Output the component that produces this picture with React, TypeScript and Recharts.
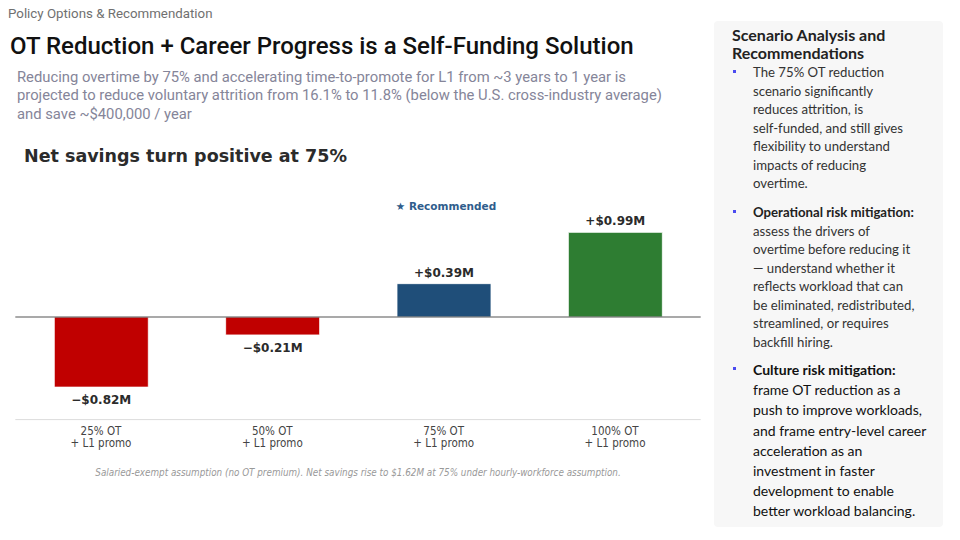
import { BarChart, Bar, XAxis, YAxis, Cell, ReferenceLine, LabelList } from "recharts";

const SCENARIOS = ["25% OT", "50% OT", "75% OT", "100% OT"];
const SCENARIO_SUFFIX = "+ L1 promo";
const NET_SAVINGS = [-0.82, -0.21, 0.39, 0.99];
const RECOMMENDED = "75% OT";
const BAR_COLORS = ["#c00000", "#c00000", "#1f4e79", "#2e7d32"];

const SUBTITLE = [
  "Reducing overtime by 75% and accelerating time-to-promote for L1 from ~3 years to 1 year is",
  "projected to reduce voluntary attrition from 16.1% to 11.8% (below the U.S. cross-industry average)",
  "and save ~$400,000 / year",
];

const BULLET_1 = [
  "The 75% OT reduction",
  "scenario significantly",
  "reduces attrition, is",
  "self-funded, and still gives",
  "flexibility to understand",
  "impacts of reducing",
  "overtime.",
];
const BULLET_2 = [
  "assess the drivers of",
  "overtime before reducing it",
  "\u2014 understand whether it",
  "reflects workload that can",
  "be eliminated, redistributed,",
  "streamlined, or requires",
  "backfill hiring.",
];
const BULLET_3 = [
  "frame OT reduction as a",
  "push to improve workloads,",
  "and frame entry-level career",
  "acceleration as an",
  "investment in faster",
  "development to enable",
  "better workload balancing.",
];

const data = SCENARIOS.map((s, i) => ({ scenario: s, savings: NET_SAVINGS[i] }));

const chartFont = "'DejaVu Sans', sans-serif";
const narrowFont = "'Liberation Sans Narrow', 'DejaVu Sans Condensed', 'Roboto', sans-serif";

function ValueLabel(props: any) {
  const { x, y, width, height, value, index } = props;
  const top = Math.min(y, y + height);
  const bottom = Math.max(y, y + height);
  const cx = x + width / 2;
  const pos = value >= 0;
  const text = pos ? `+$${value.toFixed(2)}M` : `\u2212$${Math.abs(value).toFixed(2)}M`;
  return (
    <g>
      <text
        x={cx}
        y={pos ? top - 11 : bottom + 13}
        textAnchor="middle"
        dominantBaseline="central"
        fontFamily={chartFont}
        fontWeight="bold"
        fontSize={12}
        fill="#2b2b2b"
      >
        {text}
      </text>
      {SCENARIOS[index] === RECOMMENDED && (
        <text
          x={cx + 2}
          y={top - 78}
          textAnchor="middle"
          dominantBaseline="central"
          fontFamily={chartFont}
          fontWeight="bold"
          fontSize={10.5}
          fill="#2f5d8c"
        >
          ★ Recommended
        </text>
      )}
    </g>
  );
}

function ScenarioTick(props: any) {
  const { x, y, payload } = props;
  return (
    <g transform={`translate(${x},${y})`}>
      <text textAnchor="middle" fontFamily={narrowFont} fontSize={11.5} fill="#444">
        <tspan x={0} dy={15}>{payload.value}</tspan>
        <tspan x={0} dy={12.5}>{SCENARIO_SUFFIX}</tspan>
      </text>
    </g>
  );
}

function Bullet({ top, children }: { top: number; children: any }) {
  return (
    <div style={{ position: "absolute", left: 0, top, width: 220 }}>
      <div
        style={{
          position: "absolute",
          left: 19,
          top: 7,
          width: 3,
          height: 3,
          background: "#4b4bf0",
        }}
      />
      <div style={{ position: "absolute", left: 39, top: 0 }}>{children}</div>
    </div>
  );
}

export default function App() {
  return (
    <div
      style={{
        position: "absolute",
        left: 0,
        top: 0,
        width: 960,
        height: 540,
        background: "#ffffff",
        overflow: "hidden",
      }}
    >
      <div
        style={{
          position: "absolute",
          left: 8,
          top: 5,
          fontFamily: "Roboto, sans-serif",
          fontSize: 13.3,
          lineHeight: "18px",
          color: "#707070",
        }}
      >
        Policy Options &amp; Recommendation
      </div>
      <div
        style={{
          position: "absolute",
          left: 10,
          top: 31,
          fontFamily: "Roboto, sans-serif",
          fontSize: 24,
          fontWeight: 500,
          lineHeight: "30px",
          color: "#111",
          whiteSpace: "nowrap",
        }}
      >
        OT Reduction + Career Progress is a Self-Funding Solution
      </div>
      <div
        style={{
          position: "absolute",
          left: 17,
          top: 68,
          fontFamily: "Roboto, sans-serif",
          fontSize: 14.8,
          lineHeight: "18.3px",
          color: "#858599",
          whiteSpace: "nowrap",
        }}
      >
        {SUBTITLE.map((l) => (
          <div key={l}>{l}</div>
        ))}
      </div>

      <div
        style={{
          position: "absolute",
          left: 24,
          top: 145,
          fontFamily: chartFont,
          fontSize: 17.5,
          fontWeight: "bold",
          lineHeight: "22px",
          color: "#2b2b2b",
          whiteSpace: "nowrap",
        }}
      >
        Net savings turn positive at 75%
      </div>

      <div style={{ position: "absolute", left: 0, top: 0 }}>
        <BarChart
          width={720}
          height={500}
          data={data}
          margin={{ top: 180.2, right: 19.3, bottom: 50.4, left: 15.3 }}
        >
          <XAxis
            dataKey="scenario"
            height={30}
            tickLine={false}
            tickSize={0}
            tickMargin={0}
            axisLine={{ stroke: "#dcdcdc", strokeWidth: 1 }}
            tick={<ScenarioTick />}
            interval={0}
          />
          <YAxis hide domain={[-1.2, 1.6]} allowDataOverflow />
          <Bar dataKey="savings" barSize={94} isAnimationActive={false} stroke="#ffffff" strokeWidth={0.8}>
            {data.map((d, i) => (
              <Cell key={d.scenario} fill={BAR_COLORS[i]} />
            ))}
            <LabelList dataKey="savings" content={<ValueLabel />} />
          </Bar>
          <ReferenceLine y={0} stroke="#555" strokeWidth={1.2} />
        </BarChart>
      </div>

      <div
        style={{
          position: "absolute",
          left: 0,
          top: 466,
          width: 716,
          textAlign: "center",
          fontFamily: narrowFont,
          fontStyle: "italic",
          fontSize: 9.8,
          lineHeight: "14px",
          color: "#999",
          whiteSpace: "nowrap",
        }}
      >
        Salaried-exempt assumption (no OT premium). Net savings rise to $1.62M at 75% under hourly-workforce assumption.
      </div>

      <div
        style={{
          position: "absolute",
          left: 714,
          top: 21,
          width: 229,
          height: 506,
          background: "#f7f7f7",
          borderRadius: 4,
        }}
      >
        <div
          style={{
            position: "absolute",
            left: 18,
            top: 5,
            fontFamily: "Lato, sans-serif",
            fontWeight: 700,
            fontSize: 16,
            lineHeight: "17.5px",
            color: "#222",
            whiteSpace: "nowrap",
          }}
        >
          <div>Scenario Analysis and</div>
          <div>Recommendations</div>
        </div>
        <div style={{ fontFamily: "Lato, sans-serif", fontSize: 13.2, lineHeight: "18.5px", color: "#333", whiteSpace: "nowrap" }}>
          <Bullet top={42}>
            {BULLET_1.map((l) => (
              <div key={l}>{l}</div>
            ))}
          </Bullet>
          <Bullet top={182}>
            <div style={{ fontWeight: 700, color: "#222" }}>Operational risk mitigation:</div>
            {BULLET_2.map((l) => (
              <div key={l}>{l}</div>
            ))}
          </Bullet>
        </div>
        <div style={{ fontFamily: "Lato, sans-serif", fontSize: 14, lineHeight: "20.2px", color: "#111", whiteSpace: "nowrap" }}>
          <Bullet top={339}>
            <div style={{ fontWeight: 700 }}>Culture risk mitigation:</div>
            {BULLET_3.map((l) => (
              <div key={l}>{l}</div>
            ))}
          </Bullet>
        </div>
      </div>
    </div>
  );
}
